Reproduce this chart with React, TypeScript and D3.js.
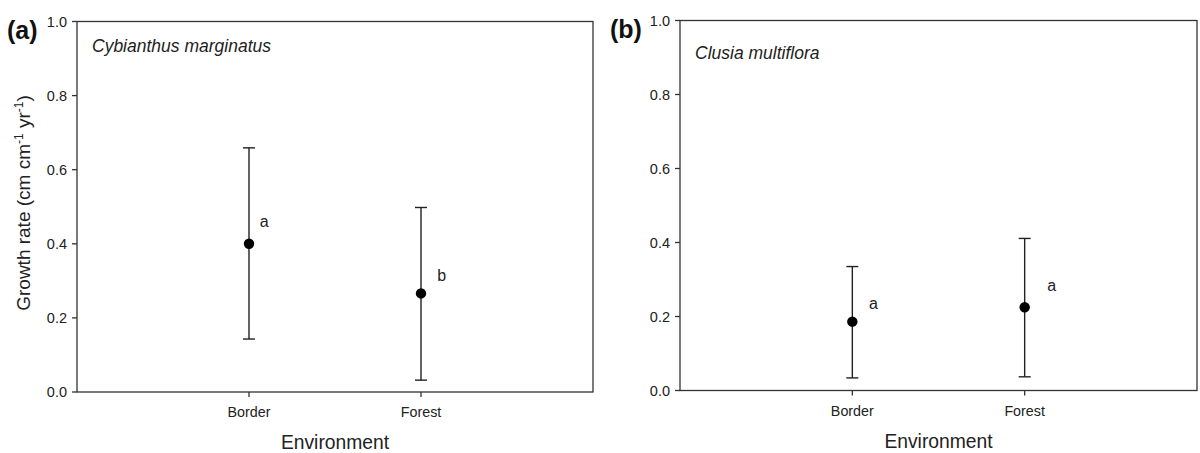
import React from "react";
import * as d3 from "d3";

const categories = ["Border", "Forest"];
const yTicks = [0, 0.2, 0.4, 0.6, 0.8, 1.0];
const panelTags = ["(a)", "(b)"];
const speciesNames = ["Cybianthus marginatus", "Clusia multiflora"];

const meansA = [0.4, 0.266];
const upperA = [0.659, 0.498];
const lowerA = [0.143, 0.032];
const lettersA = ["a", "b"];
const letterYA = [0.46, 0.315];
const letterDxA = [0.088, 0.12];

const meansB = [0.186, 0.225];
const upperB = [0.335, 0.411];
const lowerB = [0.034, 0.037];
const lettersB = ["a", "a"];
const letterYB = [0.236, 0.285];
const letterDxB = [0.122, 0.157];

const FONT = "'Liberation Sans', Arial, sans-serif";
const INK = "#222";

type PanelProps = {
  x0: number; x1: number; y0: number; y1: number;
  tag: string; species: string; speciesY: number;
  means: number[]; upper: number[]; lower: number[];
  letters: string[]; letterY: number[]; letterDx: number[];
  showYLabel: boolean;
};

function Panel(p: PanelProps) {
  const x = d3.scaleLinear().domain([0, 3]).range([p.x0, p.x1]);
  const y = d3.scaleLinear().domain([0, 1]).range([p.y1, p.y0]);
  const fmt = d3.format(".1f");
  const cx = (p.x0 + p.x1) / 2;
  return (
    <g>
      <rect x={p.x0} y={p.y0} width={p.x1 - p.x0} height={p.y1 - p.y0} fill="none" stroke="#333" strokeWidth={1.3} />
      {yTicks.map((t) => (
        <g key={t}>
          <line x1={p.x0 - 5} x2={p.x0} y1={y(t)} y2={y(t)} stroke="#333" strokeWidth={1.3} />
          <text x={p.x0 - 10} y={y(t)} dy="0.35em" textAnchor="end" fontSize={14.5} fontFamily={FONT} fill={INK}>{fmt(t)}</text>
        </g>
      ))}
      {categories.map((c, i) => (
        <g key={c}>
          <line x1={x(i + 1)} x2={x(i + 1)} y1={p.y1} y2={p.y1 + 5} stroke="#333" strokeWidth={1.3} />
          <text x={x(i + 1)} y={p.y1 + 25} textAnchor="middle" fontSize={14.3} fontFamily={FONT} fill={INK}>{c}</text>
        </g>
      ))}
      <text x={cx} y={p.y1 + 57} textAnchor="middle" fontSize={19.3} fontFamily={FONT} fill={INK}>Environment</text>
      <text x={p.x0 - 70} y={p.y0 + 17} fontSize={25} fontWeight="bold" fontFamily={FONT} fill="#111">{p.tag}</text>
      <text x={p.x0 + 15} y={p.speciesY} fontSize={17.5} fontStyle="italic" fontFamily={FONT} fill={INK}>{p.species}</text>
      {categories.map((c, i) => {
        const px = x(i + 1);
        return (
          <g key={"e" + c}>
            <line x1={px} x2={px} y1={y(p.upper[i])} y2={y(p.lower[i])} stroke={INK} strokeWidth={1.4} />
            <line x1={px - 6} x2={px + 6} y1={y(p.upper[i])} y2={y(p.upper[i])} stroke={INK} strokeWidth={1.4} />
            <line x1={px - 6} x2={px + 6} y1={y(p.lower[i])} y2={y(p.lower[i])} stroke={INK} strokeWidth={1.4} />
            <circle cx={px} cy={y(p.means[i])} r={5.2} fill="#000" />
            <text x={x(i + 1 + p.letterDx[i])} y={y(p.letterY[i])} dy="0.35em" textAnchor="middle" fontSize={16} fontFamily={FONT} fill={INK}>{p.letters[i]}</text>
          </g>
        );
      })}
      {p.showYLabel && (
        <text transform={`translate(23,203) rotate(-90)`} textAnchor="middle" dy="0.35em" fontSize={19} fontFamily={FONT} fill={INK}>
          Growth rate (cm cm<tspan dy="-7" fontSize={12}>-1</tspan><tspan dy="7"> yr</tspan><tspan dy="-7" fontSize={12}>-1</tspan><tspan dy="7">)</tspan>
        </text>
      )}
    </g>
  );
}

export default function App() {
  return (
    <div style={{ position: "absolute", left: 0, top: 0 }}>
      <svg width={1200} height={453} style={{ display: "block", background: "#fff" }}>
        <Panel x0={77} x1={593} y0={21.5} y1={392} tag={panelTags[0]} species={speciesNames[0]} speciesY={52}
          means={meansA} upper={upperA} lower={lowerA} letters={lettersA} letterY={letterYA} letterDx={letterDxA} showYLabel={true} />
        <Panel x0={680} x1={1197} y0={20.5} y1={390.5} tag={panelTags[1]} species={speciesNames[1]} speciesY={59}
          means={meansB} upper={upperB} lower={lowerB} letters={lettersB} letterY={letterYB} letterDx={letterDxB} showYLabel={false} />
      </svg>
    </div>
  );
}
